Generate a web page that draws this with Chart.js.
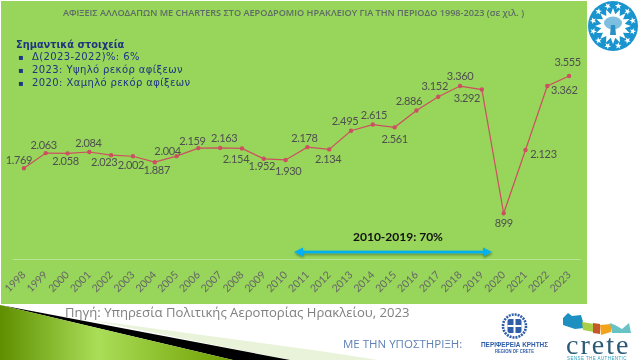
<!DOCTYPE html>
<html>
<head>
<meta charset="utf-8">
<style>
  html, body { margin: 0; padding: 0; background: #fff; width: 640px; height: 360px; overflow: hidden; }
  #panel { position: absolute; left: 0; top: 0; width: 587px; height: 304px; }
  #overlay { position: absolute; left: 0; top: 0; }
</style>
<script src="https://cdn.jsdelivr.net/npm/chart.js@4"></script>
</head>
<body>
<div id="panel"><canvas id="arrivalsChart" width="587" height="304"></canvas></div>
<svg id="overlay" width="640" height="360" xmlns="http://www.w3.org/2000/svg">
  <defs>
    <linearGradient id="wedge" x1="0" y1="0" x2="1" y2="0">
      <stop offset="0" stop-color="#5f8f00"/>
      <stop offset="0.42" stop-color="#aade58"/>
      <stop offset="1" stop-color="#6f9f00"/>
    </linearGradient>
    <filter id="soft" x="-10%" y="-60%" width="120%" height="260%">
      <feDropShadow dx="0.5" dy="1.5" stdDeviation="1" flood-color="#000" flood-opacity="0.4"/>
    </filter>
  </defs>

  <!-- bottom left wedge -->
  <polygon points="90,320 320,351 378,360 290,360" fill="#e8f3d9"/>
  <polygon points="0,305 290,360 233,360" fill="#000"/>
  <polygon points="0,305 233,360 0,360" fill="url(#wedge)"/>

  <!-- key facts -->
  <g font-family="'DejaVu Sans'" fill="#1f3580" font-size="10" letter-spacing="0.4" style="white-space:pre">
    <text x="16" y="47.5" font-size="9.8" letter-spacing="0" font-weight="bold">Σημαντικά στοιχεία</text>
    <text x="18" y="60" font-size="8">▪</text>
    <text x="32" y="60">Δ(2023-2022)%:  6%</text>
    <text x="18" y="73" font-size="8">▪</text>
    <text x="32" y="73">2023: Υψηλό ρεκόρ αφίξεων</text>
    <text x="18" y="86" font-size="8">▪</text>
    <text x="32" y="86">2020: Χαμηλό ρεκόρ αφίξεων</text>
  </g>

  <!-- 2010-2019 arrow -->
  <text x="398" y="241" text-anchor="middle" font-family="Lato" font-size="12" font-weight="bold" fill="#111">2010-2019: 70%</text>
  <g fill="#00b0f0" filter="url(#soft)">
    <rect x="300" y="250.7" width="186" height="2.6"/>
    <polygon points="294,252 303,247.5 303,256.5"/>
    <polygon points="492,252 483,247.5 483,256.5"/>
  </g>

  <text x="65" y="317" font-family="'Open Sans'" font-size="13.1" fill="#7f7f7f">Πηγή: Υπηρεσία Πολιτικής Αεροπορίας Ηρακλείου, 2023</text>
  <text x="343" y="347.5" font-family="'Open Sans'" font-size="11.5" fill="#5f82b4">ΜΕ ΤΗΝ ΥΠΟΣΤΗΡΙΞΗ:</text>

  <!-- region logo -->
  <circle cx="514.5" cy="326" r="11.5" fill="none" stroke="#2f5da8" stroke-width="2.6" stroke-dasharray="2 1"/>
  <rect x="507.5" y="319" width="14" height="14" rx="2" fill="#2f5da8"/>
  <path d="M514.5 319v14M507.5 326h14" stroke="#fff" stroke-width="2"/>
  <text x="481" y="347" textLength="67" lengthAdjust="spacingAndGlyphs" font-family="'Liberation Sans'" font-size="8" font-weight="bold" fill="#2f5da8">ΠΕΡΙΦΕΡΕΙΑ ΚΡΗΤΗΣ</text>
  <text x="495" y="352.5" textLength="39" lengthAdjust="spacingAndGlyphs" font-family="'Liberation Sans'" font-size="4.5" font-weight="bold" fill="#2f5da8">REGION OF CRETE</text>

  <!-- crete logo -->
  <polygon points="563,318 568,313 572,316 581,315 583,322 584,328 575,329 563,325" fill="#1d8fc1"/>
  <polygon points="582,322 594,324 594,332 583,330" fill="#a8cf45"/>
  <polygon points="593,323 600,324 600,334 593,333" fill="#c7562c"/>
  <polygon points="600,325 611,324 611,332 601,335" fill="#f2a31c"/>
  <polygon points="610,323 615,325 622,329 629,323 631,333 612,333" fill="#67c3c4"/>
  <text x="566" y="354" font-family="'Liberation Serif'" font-size="28" letter-spacing="2" fill="#2a5a76">crete</text>
  <text x="597" y="359.5" text-anchor="middle" font-family="'Liberation Sans'" font-size="4.5" letter-spacing="0.4" fill="#2a9fc0">SENSE THE AUTHENTIC</text>

  <!-- top right emblem -->
  <g id="emblem"></g>
</svg>

<script>
const years = ['1998','1999','2000','2001','2002','2003','2004','2005','2006','2007','2008','2009','2010',
  '2011','2012','2013','2014','2015','2016','2017','2018','2019','2020','2021','2022','2023'];
const arrivals = [1769,2063,2058,2084,2023,2002,1887,2004,2159,2163,2154,1952,1930,
  2178,2134,2495,2615,2561,2886,3152,3360,3292,899,2123,3362,3555];

// hand placed, same order as years: label centre relative to its point
const labelOffsets = [[-5,-8],[-2,-8],[-2,8],[-1,-9],[-7,7],[-2,9],[2,8.5],[-9,-5],[-6,-7],[4,-9],[-6,11],[-2,8],[2.5,11.5],
  [-3,-8.5],[-1,10],[-6,-9],[1,-9],[0,12],[-7.5,-9.5],[-3.5,-10],[0,-10],[-15,9],[0,10],[18,4.5],[17,4.5],[-1.5,-13.5]];

const pointLabels = {
  id: 'pointLabels',
  afterDatasetsDraw(chart) {
    const ctx = chart.ctx;
    ctx.save();
    ctx.font = '11px Lato';
    ctx.letterSpacing = '-0.35px';
    ctx.fillStyle = '#4f4f4f';
    ctx.textAlign = 'center';
    ctx.textBaseline = 'middle';
    chart.getDatasetMeta(0).data.forEach(function(pt, i) {
      const txt = arrivals[i].toLocaleString('de-DE');
      ctx.fillText(txt, pt.x + labelOffsets[i][0], pt.y + labelOffsets[i][1]);
    });
    ctx.restore();
  }
};

new Chart(document.getElementById('arrivalsChart'), {
  type: 'line',
  data: {
    labels: years,
    datasets: [{
      data: arrivals,
      borderColor: '#cc5060',
      backgroundColor: '#cc5060',
      borderWidth: 1.2,
      pointRadius: 1.6,
      pointHoverRadius: 1.6,
      tension: 0
    }]
  },
  plugins: [{
    id: 'panelBg',
    beforeDraw(chart) {
      const ctx = chart.ctx;
      ctx.save();
      ctx.fillStyle = '#97d55b';
      ctx.fillRect(1, 1, chart.width - 1, chart.height - 1);
      ctx.restore();
    },
    afterLayout(chart) {
      // title sits over the whole panel, not the plot
      chart.titleBlock.left -= 3;
      chart.titleBlock.right -= 3;
    }
  }, pointLabels],
  options: {
    responsive: false,
    animation: false,
    layout: { padding: { left: 13, right: 7, top: 0, bottom: 0 } },
    plugins: {
      legend: { display: false },
      tooltip: { enabled: false },
      title: {
        display: true,
        text: 'ΑΦΙΞΕΙΣ ΑΛΛΟΔΑΠΩΝ ΜΕ CHARTERS ΣΤΟ ΑΕΡΟΔΡΟΜΙΟ ΗΡΑΚΛΕΙΟΥ ΓΙΑ ΤΗΝ ΠΕΡΙΟΔΟ 1998-2023 (σε χιλ. )',
        color: '#5e6b66',
        font: { family: 'Open Sans', size: 9.15, weight: '600' },
        padding: { top: 7.5, bottom: 34.5 }
      }
    },
    scales: {
      x: {
        offset: true,
        grid: { display: false },
        border: { color: 'rgba(255,255,255,0.35)' },
        ticks: {
          autoSkip: false,
          minRotation: 45,
          maxRotation: 45,
          color: '#666',
          padding: 1,
          font: { family: 'Lato', size: 10.5 }
        },
        afterFit(scale) { scale.height = 44.3; }
      },
      y: { display: false, min: 0, max: 4000 }
    }
  }
});

// emblem: white burst, tree and ring of stars
const cx = 613, cy = 26;
let svg = '<circle cx="' + cx + '" cy="' + cy + '" r="25" fill="#1a94cf"/>';
let burst = '';
for (let i = 0; i < 32; i++) {
  const a = i * Math.PI / 16, r = i % 2 ? 12 : 18;
  burst += (cx + r * Math.cos(a)).toFixed(1) + ',' + (cy + r * Math.sin(a)).toFixed(1) + ' ';
}
svg += '<polygon points="' + burst + '" fill="#fff"/>';
svg += '<ellipse cx="' + cx + '" cy="' + (cy - 3) + '" rx="9" ry="6.5" fill="#7dbfe0"/>';
svg += '<path d="M' + (cx - 2) + ' ' + (cy - 1) + 'h4l1 10h-6z" fill="#2a8fc4"/>';
for (let i = 0; i < 12; i++) {
  const a = (i + 0.5) * Math.PI / 6, sx = cx + 20.5 * Math.cos(a), sy = cy + 20.5 * Math.sin(a);
  let star = '';
  for (let k = 0; k < 10; k++) {
    const b = k * Math.PI / 5 - Math.PI / 2 + a, r = k % 2 ? 1.4 : 3.5;
    star += (sx + r * Math.cos(b)).toFixed(1) + ',' + (sy + r * Math.sin(b)).toFixed(1) + ' ';
  }
  svg += '<polygon points="' + star + '" fill="#fff"/>';
}
document.getElementById('emblem').innerHTML = svg;
</script>
</body>
</html>
